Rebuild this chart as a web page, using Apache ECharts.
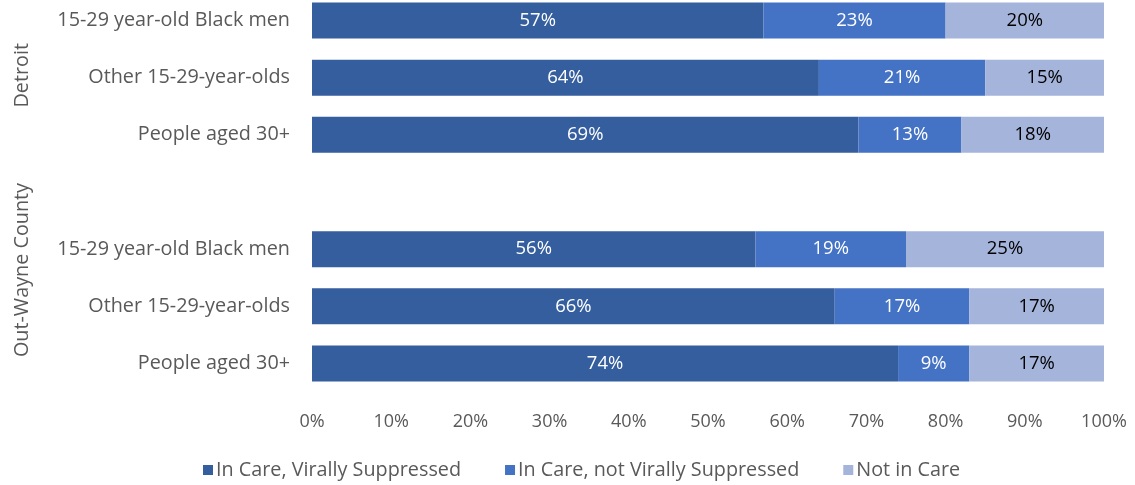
<!DOCTYPE html>
<html><head><meta charset="utf-8">
<script src="https://cdn.jsdelivr.net/npm/echarts@6/dist/echarts.min.js"></script>
<style>html,body{margin:0;padding:0;background:#fff;overflow:hidden}#c{width:1135px;height:493px;margin-top:-8px}</style>
</head><body><div id="c"></div>
<script>
const categories = ["15-29 year-old Black men","Other 15-29-year-olds","People aged 30+","","15-29 year-old Black men","Other 15-29-year-olds","People aged 30+"];
const groups = ["Detroit","Out-Wayne County"];
const suppressed = [57,64,69,null,56,66,74];
const notSuppressed = [23,21,13,null,19,17,9];
const notInCare = [20,15,18,null,25,17,17];
const seriesNames = ["In Care, Virally Suppressed","In Care, not Virally Suppressed","Not in Care"];
const xTicks = [0,10,20,30,40,50,60,70,80,90,100];

const FONT = "Open Sans";
const FS = 18;
const FL = 19.8;
const colors = ["#355E9F","#4472C4","#A5B4DB"];
const labelColors = ["#fff","#fff","#000"];
const chart = echarts.init(document.getElementById('c'));
const mk = (name, data, i) => ({
  name, type:'bar', stack:'t', data, barWidth:36,
  itemStyle:{color:colors[i]},
  label:{show:true, position:'inside', formatter: p => p.value==null ? '' : p.value + '%', color:labelColors[i], fontFamily:FONT, fontSize:18.5}
});
chart.setOption({
  animation:false,
  textStyle:{fontFamily:FONT},
  grid:{left:312, right:31, top:0, height:400, containLabel:false},
  xAxis:{type:'value', min:xTicks[0], max:xTicks[xTicks.length-1], interval:10,
    axisLine:{show:false}, axisTick:{show:false}, splitLine:{show:false},
    axisLabel:{formatter:'{value}%', color:'#595959', fontFamily:FONT, fontSize:FS, margin:21}},
  yAxis:{type:'category', data:categories, inverse:true,
    axisLine:{show:false}, axisTick:{show:false},
    axisLabel:{color:'#595959', fontFamily:FONT, fontSize:FL, margin:22}},
  legend:{bottom:0, left:198, itemWidth:10, itemHeight:10, itemGap:44, icon:'rect',
    textStyle:{color:'#595959', fontFamily:FONT, fontSize:FL, padding:[0,0,0,-2]},
    data:seriesNames},
  graphic:[
    {type:'text', left:12, top:51, rotation:Math.PI/2, style:{text:groups[0], fill:'#595959', font:FL+'px "'+FONT+'"'}},
    {type:'text', left:12, top:191, rotation:Math.PI/2, style:{text:groups[1], fill:'#595959', font:FL+'px "'+FONT+'"'}}
  ],
  series:[mk(seriesNames[0],suppressed,0), mk(seriesNames[1],notSuppressed,1), mk(seriesNames[2],notInCare,2)]
});
</script></body></html>
